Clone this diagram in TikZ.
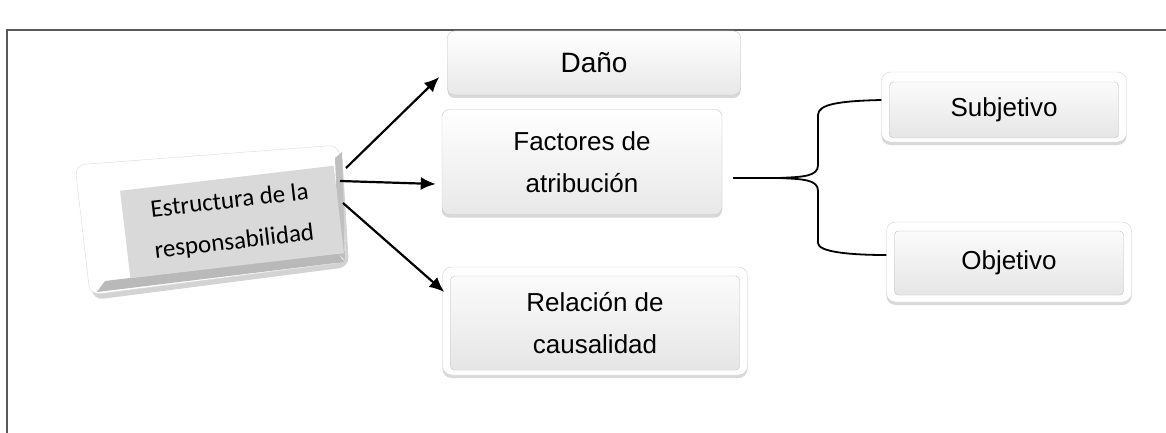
\documentclass[tikz,border=0pt]{standalone}
\usepackage{fontspec}
\setmainfont{Liberation Sans}
\newfontfamily\calib{Carlito}
\usetikzlibrary{shadows,calc,arrows.meta}
\begin{document}
\begin{tikzpicture}[x=1pt,y=-1pt,
  bev/.style={rounded corners=7pt, draw=gray!45, top color=white, bottom color=gray!18,
    drop shadow={opacity=0.3, shadow xshift=0pt, shadow yshift=-3pt},
    align=center, font=\fontsize{26}{42}\selectfont, inner sep=0pt},
  rim/.style={rounded corners=9pt, draw=gray!35, fill=white,
    drop shadow={opacity=0.3, shadow xshift=0pt, shadow yshift=-3pt}},
  inbox/.style={rounded corners=4pt, draw=gray!50, top color=gray!3, bottom color=gray!20,
    align=center, font=\fontsize{26}{42}\selectfont, inner sep=0pt},
  arr/.style={line width=2.2pt, -{Latex[length=15pt,width=13pt]}},
  brace/.style={line width=1.8pt}]
\useasboundingbox (0,0) rectangle (1166,433);
% frame
\draw[line width=1.3pt, gray!70!black] (7,433) -- (7,30) -- (1166,30);

% Estructura (3D tilted block)
\filldraw[fill=white, draw=gray!30, rounded corners=10pt,
  drop shadow={opacity=0.35, shadow xshift=3pt, shadow yshift=-5pt}]
  (75,165) -- (339,145) -- (346,262) -- (90,295) -- cycle;
\fill[gray!55] (105,281) -- (338,253) -- (344,262) -- (97,292) -- cycle;
\fill[gray!50] (335,158) -- (342,152) -- (345,260) -- (339,255) -- cycle;
\node[fill=gray!30, rotate=6.7, minimum width=215pt, minimum height=88pt,
  align=center, inner sep=0pt, font=\calib\fontsize{25}{41}\selectfont]
  (est) at (232,222) {Estructura de la\\responsabilidad};
\coordinate (e1) at (346,168);
\coordinate (e2) at (340,181);
\coordinate (e3) at (343,203);

% Daño
\node[bev, minimum width=293pt, minimum height=64pt, font=\fontsize{28}{42}\selectfont] (dano) at (594,63) {Daño};
% Factores
\node[bev, minimum width=280pt, minimum height=105pt] (fact) at (582,162) {Factores de\\atribución};
% Relacion
\node[rim, minimum width=305pt, minimum height=108pt] (rel) at (595,321) {};
\node[inbox, minimum width=289pt, minimum height=94pt] (relin) at (595,323) {Relación de\\causalidad};
% Subjetivo
\node[rim, minimum width=245pt, minimum height=70pt] (sub) at (1004,107) {};
\node[inbox, minimum width=229pt, minimum height=56pt] (subin) at (1004,110) {Subjetivo};
% Objetivo
\node[rim, minimum width=245pt, minimum height=80pt] (obj) at (1009,262) {};
\node[inbox, minimum width=229pt, minimum height=64pt] (objin) at (1009,263) {Objetivo};

% arrows
\draw[arr] (e1) -- ([xshift=-8pt,yshift=-14pt]dano.west);
\draw[arr] (e2) -- ([xshift=-6pt,yshift=-22pt]fact.west);
\draw[arr] (e3) -- ([xshift=2pt,yshift=29pt]rel.west);

% brace
\coordinate (bs) at (733,178);
\draw[brace] (bs) -- (778,178) .. controls (805,177) and (818,176) .. (818,165)
  -- (818,115) .. controls (818,104) and (840,101) .. ([yshift=7pt]sub.west);
\draw[brace] (778,178) .. controls (805,179) and (818,180) .. (818,191)
  -- (818,243) .. controls (818,252) and (850,255) .. ([yshift=7pt]obj.west);
\end{tikzpicture}
\end{document}
